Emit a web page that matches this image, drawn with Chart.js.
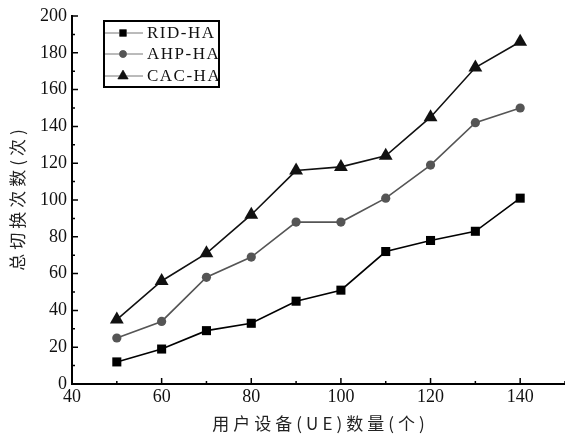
<!DOCTYPE html>
<html>
<head>
<meta charset="utf-8">
<script src="https://cdn.jsdelivr.net/npm/chart.js@4"></script>
<style>
  html, body { margin: 0; padding: 0; background: #fff; }
  #wrap { width: 565px; height: 437px; }
</style>
</head>
<body>
<div id="wrap"><canvas id="handoverChart" width="565" height="437"></canvas></div>
<script>
// number of user equipments
const ueCounts = [50, 60, 70, 80, 90, 100, 110, 120, 130, 140];

const ridHa = [12, 19, 29, 33, 45, 51, 72, 78, 83, 101];
const ahpHa = [25, 34, 58, 69, 88, 88, 101, 119, 142, 150];
const cacHa = [35, 56, 71, 92, 116, 118, 124, 145, 172, 186];

const xTicks = [40, 60, 80, 100, 120, 140];
const yTicks = [0, 20, 40, 60, 80, 100, 120, 140, 160, 180, 200];

const seriesNames = ["RID-HA", "AHP-HA", "CAC-HA"];
const xTitle = "用户设备(UE)数量(个)";
const yTitle = "总切换次数(次)";

const serif = "'Liberation Serif', 'DejaVu Serif', serif";
const cjk = "'Noto Sans CJK SC', sans-serif";

function toPoints(values) {
    return ueCounts.map((x, i) => ({ x: x, y: values[i] }));
}

// ticks drawn inward, majors + minors, like the original plot
const innerTicks = {
    id: "innerTicks",
    afterDraw(chart) {
        const ctx = chart.ctx;
        const xs = chart.scales.x;
        const ys = chart.scales.y;
        const left = chart.chartArea.left;
        const bottom = chart.chartArea.bottom;
        ctx.save();
        ctx.strokeStyle = "#000";
        ctx.lineWidth = 1.5;
        ctx.beginPath();
        for (let v = 0; v <= 200; v += 10) {
            const py = ys.getPixelForValue(v);
            const len = (v % 20 === 0) ? 6 : 3;
            ctx.moveTo(left, py);
            ctx.lineTo(left + len, py);
        }
        for (let v = 40; v <= 150; v += 10) {
            const px = xs.getPixelForValue(v);
            const len = (v % 20 === 0) ? 6 : 3;
            ctx.moveTo(px, bottom);
            ctx.lineTo(px, bottom - len);
        }
        ctx.stroke();

        // axis titles, spaced out like the original
        ctx.fillStyle = "#222";
        ctx.font = "17px " + cjk;
        ctx.letterSpacing = "4px";
        ctx.textAlign = "center";
        ctx.textBaseline = "middle";
        ctx.fillText(xTitle, (xs.left + xs.right) / 2 + 2, 424);
        ctx.translate(18, (ys.top + ys.bottom) / 2);
        ctx.rotate(-Math.PI / 2);
        ctx.fillText(yTitle, 2, 0);
        ctx.restore();
    }
};

// boxed legend with line + marker samples
const boxLegend = {
    id: "boxLegend",
    afterDraw(chart) {
        const ctx = chart.ctx;
        const bx = 104, by = 21, bw = 115, bh = 66;
        const rows = [33, 54, 76];
        ctx.save();
        ctx.fillStyle = "#fff";
        ctx.fillRect(bx, by, bw, bh);
        chart.data.datasets.forEach((ds, i) => {
            const y = rows[i];
            ctx.strokeStyle = "#777";
            ctx.lineWidth = 1;
            ctx.beginPath();
            ctx.moveTo(bx, y);
            ctx.lineTo(bx + 39, y);
            ctx.stroke();
            Chart.helpers.drawPoint(ctx, {
                pointStyle: ds.pointStyle,
                radius: ds.pointRadius * 0.75,
                borderWidth: 1
            }, bx + 19, y);
            ctx.fillStyle = ds.pointBackgroundColor;
            ctx.strokeStyle = ds.pointBorderColor;
            ctx.fill();
            ctx.fillStyle = "#111";
            ctx.font = "17px " + serif;
            ctx.letterSpacing = "1.5px";
            ctx.textBaseline = "middle";
            ctx.textAlign = "left";
            ctx.fillText(ds.label, bx + 43, y + 1);
            ctx.letterSpacing = "0px";
        });
        ctx.strokeStyle = "#000";
        ctx.lineWidth = 2;
        ctx.strokeRect(bx, by, bw, bh);
        ctx.restore();
    }
};

const ctx = document.getElementById("handoverChart").getContext("2d");

new Chart(ctx, {
    type: "line",
    data: {
        datasets: [
            {
                label: seriesNames[0],
                data: toPoints(ridHa),
                borderColor: "#000",
                borderWidth: 1.6,
                pointStyle: "rect",
                pointRadius: 6.4,
                pointBackgroundColor: "#000",
                pointBorderColor: "#000",
                pointBorderWidth: 0
            },
            {
                label: seriesNames[1],
                data: toPoints(ahpHa),
                borderColor: "#555",
                borderWidth: 1.6,
                pointStyle: "circle",
                pointRadius: 4.6,
                pointBackgroundColor: "#555",
                pointBorderColor: "#555",
                pointBorderWidth: 0
            },
            {
                label: seriesNames[2],
                data: toPoints(cacHa),
                borderColor: "#111",
                borderWidth: 1.6,
                pointStyle: "triangle",
                pointRadius: 8,
                pointBackgroundColor: "#111",
                pointBorderColor: "#111",
                pointBorderWidth: 0
            }
        ]
    },
    options: {
        responsive: false,
        animation: false,
        layout: { autoPadding: false, padding: { top: 16, right: 0, left: 0, bottom: 0 } },
        plugins: {
            legend: { display: false },
            tooltip: { enabled: false }
        },
        scales: {
            x: {
                type: "linear",
                min: 40,
                max: 150,
                afterBuildTicks: (s) => { s.ticks = xTicks.map(v => ({ value: v })); },
                afterFit: (s) => { s.height = 53; s.paddingRight = 0; s.paddingLeft = 0; },
                grid: { display: false, drawTicks: false },
                border: { display: true, color: "#000", width: 2 },
                ticks: {
                    padding: 2,
                    color: "#111",
                    font: { family: serif, size: 18 },
                    maxRotation: 0
                },
                title: { display: false }
            },
            y: {
                min: 0,
                max: 200,
                afterBuildTicks: (s) => { s.ticks = yTicks.map(v => ({ value: v })); },
                afterFit: (s) => { s.width = 72; },
                grid: { display: false, drawTicks: false },
                border: { display: true, color: "#000", width: 2 },
                ticks: {
                    padding: 5,
                    color: "#111",
                    font: { family: serif, size: 18 }
                },
                title: { display: false }
            }
        }
    },
    plugins: [innerTicks, boxLegend]
});
</script>
</body>
</html>
